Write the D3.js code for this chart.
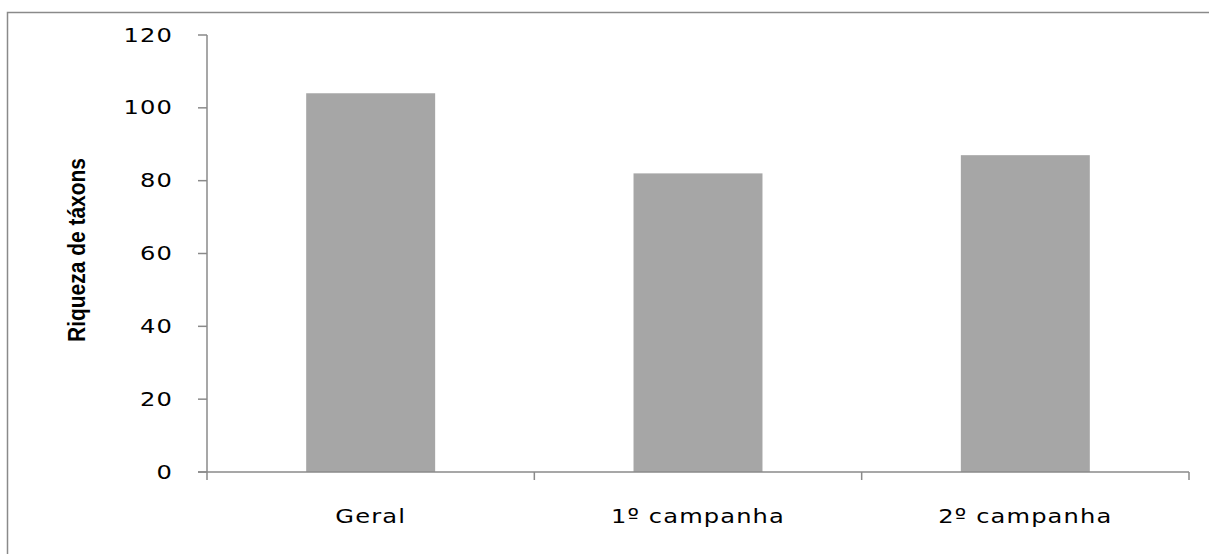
<!DOCTYPE html>
<html>
<head>
<meta charset="utf-8">
<script src="https://cdn.jsdelivr.net/npm/d3@7"></script>
<style>
  html, body { margin: 0; padding: 0; background: #fff; overflow: hidden; }
  svg { display: block; }
</style>
</head>
<body>
<svg id="chart" width="1209" height="554"></svg>
<script>
// Taxa richness per sampling campaign
const categories = ["Geral", "1º campanha", "2º campanha"];
const richness = [104, 82, 87];
const yTicks = [0, 20, 40, 60, 80, 100, 120];
const yTitle = "Riqueza de táxons";

const svg = d3.select("#chart");
const axisColor = "#8a8a8a";
const labelFont = "'DejaVu Sans', Verdana, sans-serif";
const stretch = 1.24;   // wide lettering of the axis labels
const spacing = 0.9;    // extra letter spacing, px

// outer frame: only the top and left edges fall inside the view
svg.append("path")
  .attr("d", "M7.5,554 V12.5 H1209")
  .attr("fill", "none")
  .attr("stroke", axisColor)
  .attr("stroke-width", 1.5);

const plot = { left: 207, right: 1189, top: 35, bottom: 472 };

const x = d3.scaleBand()
  .domain(categories)
  .range([plot.left, plot.right])
  .paddingInner(0.606)
  .paddingOuter(0.303);

const y = d3.scaleLinear()
  .domain([0, 120])
  .range([plot.bottom, plot.top]);

// bars
svg.append("g").selectAll("rect")
  .data(categories.map((c, i) => ({ c, v: richness[i] })))
  .join("rect")
  .attr("x", d => x(d.c))
  .attr("width", x.bandwidth())
  .attr("y", d => y(d.v))
  .attr("height", d => y(0) - y(d.v))
  .attr("fill", "#a6a6a6");

const tickLen = 9;

// y axis line (reaches down past the baseline)
svg.append("line")
  .attr("x1", plot.left).attr("x2", plot.left)
  .attr("y1", y(120)).attr("y2", y(0) + 8)
  .attr("stroke", axisColor).attr("stroke-width", 1.5);

// y ticks and labels
const yg = svg.append("g");
yg.selectAll("line")
  .data(yTicks)
  .join("line")
  .attr("x1", plot.left - tickLen).attr("x2", plot.left)
  .attr("y1", d => y(d)).attr("y2", d => y(d))
  .attr("stroke", axisColor).attr("stroke-width", 1.5);
yg.selectAll("text")
  .data(yTicks)
  .join("text")
  .attr("transform", d => `translate(${plot.left - 34},${y(d)}) scale(${stretch},1)`)
  .attr("text-anchor", "end")
  .attr("dominant-baseline", "central")
  .attr("font-family", labelFont)
  .attr("font-size", 19.5)
  .attr("letter-spacing", spacing)
  .attr("fill", "#000")
  .text(d => d);

// x axis line (starts at the 0 tick)
svg.append("line")
  .attr("x1", plot.left - tickLen).attr("x2", plot.right)
  .attr("y1", y(0)).attr("y2", y(0))
  .attr("stroke", axisColor).attr("stroke-width", 1.5);

// category boundary ticks
const bounds = categories.slice(1)
  .map(c => x(c) - x.step() * x.paddingInner() / 2);
bounds.push(plot.right);
svg.append("g").selectAll("line")
  .data(bounds)
  .join("line")
  .attr("x1", d => d).attr("x2", d => d)
  .attr("y1", y(0)).attr("y2", y(0) + 8)
  .attr("stroke", axisColor).attr("stroke-width", 1.5);

// category labels
svg.append("g").selectAll("text")
  .data(categories)
  .join("text")
  .attr("transform", d => `translate(${x(d) + x.bandwidth() / 2},522.5) scale(${stretch},1)`)
  .attr("text-anchor", "middle")
  .attr("font-family", labelFont)
  .attr("font-size", 19.5)
  .attr("letter-spacing", spacing)
  .attr("fill", "#000")
  .text(d => d);

// y axis title
svg.append("text")
  .attr("transform", "translate(85,250) rotate(-90)")
  .attr("text-anchor", "middle")
  .attr("font-family", "'Liberation Sans Narrow', 'Arial Narrow', 'Liberation Sans', sans-serif")
  .attr("font-weight", "bold")
  .attr("font-size", 24)
  .attr("textLength", 184)
  .attr("lengthAdjust", "spacingAndGlyphs")
  .attr("fill", "#000")
  .text(yTitle);
</script>
</body>
</html>
